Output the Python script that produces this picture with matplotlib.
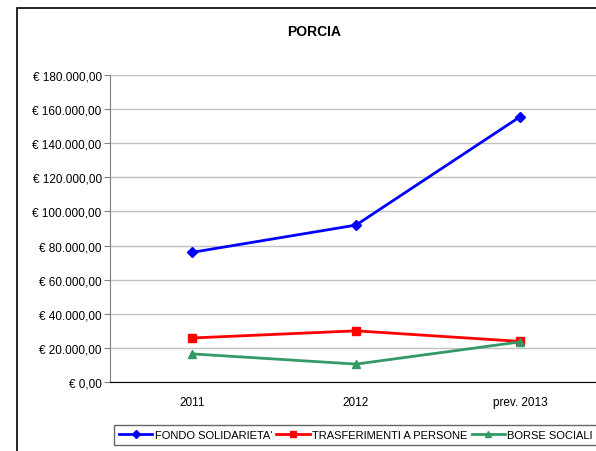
import matplotlib
matplotlib.use("Agg")
import matplotlib.pyplot as plt
from matplotlib.patches import Rectangle
from matplotlib.ticker import FuncFormatter

categories = ["2011", "2012", "prev. 2013"]
fondo = [76000, 92000, 155500]
trasferimenti = [25800, 30000, 23800]
borse = [16500, 10500, 23500]
series_names = ["FONDO SOLIDARIETA'", "TRASFERIMENTI A PERSONE", "BORSE SOCIALI"]

plt.rcParams['font.family'] = ['Liberation Sans', 'DejaVu Sans']

W, H = 596, 452
fig = plt.figure(figsize=(W/100, H/100), dpi=100)

# outer chart frame
fig.patches.append(Rectangle((17/W, -0.1), 1.2, 1 - 9/H + 0.1, transform=fig.transFigure,
                             fill=False, edgecolor='black', linewidth=1.2))

ax = fig.add_axes([110/W, (H-383)/H, 492/W, (383-76)/H])
x = list(range(len(categories)))
ax.plot(x, fondo, color='#0000ff', marker='D', markersize=5, linewidth=2, label=series_names[0])
ax.plot(x, trasferimenti, color='#ff0000', marker='s', markersize=6, linewidth=2, label=series_names[1])
ax.plot(x, borse, color='#339966', marker='^', markersize=6, linewidth=2, label=series_names[2])

ax.set_xlim(-0.5, 2.5)
ax.set_ylim(0, 180000)
ax.set_yticks(range(0, 180001, 20000))

def eur(v, pos):
    s = f"{int(v):,}".replace(",", ".")
    return f"€ {s},00"
ax.yaxis.set_major_formatter(FuncFormatter(eur))
ax.set_xticks(x)
ax.set_xticklabels(categories)
ax.tick_params(axis='x', length=0, labelsize=8.5, pad=10)
ax.tick_params(axis='y', length=4, color='#808080', labelsize=8.5, pad=2)
ax.grid(axis='y', color='#c0c0c0', linewidth=1)
ax.set_axisbelow(True)
for s in ['top', 'right']:
    ax.spines[s].set_visible(False)
ax.spines['left'].set_color('#808080')
ax.spines['bottom'].set_color('black')

fig.text(314/W, 1 - 32/H, "PORCIA", ha='center', va='center', fontsize=10, fontweight='bold')

leg = fig.legend(loc='upper left', bbox_to_anchor=(114/W, 1 - 426/H), ncol=3,
                 fontsize=8.0, frameon=True, fancybox=False, edgecolor='#404040',
                 handlelength=3.0, handletextpad=0.2, columnspacing=0.4,
                 borderpad=0.45, borderaxespad=0, markerscale=0.8)
leg.get_frame().set_linewidth(1)

fig.savefig("out.png", dpi=100)
